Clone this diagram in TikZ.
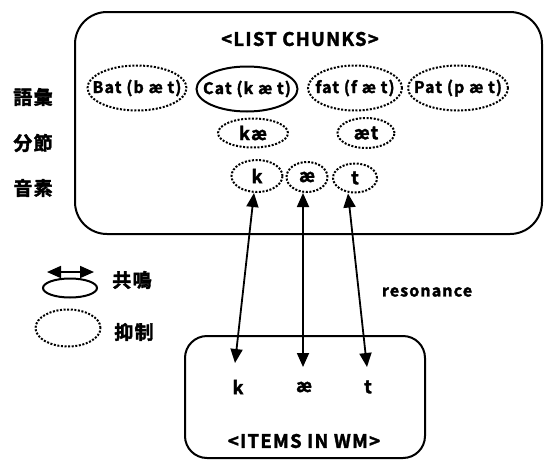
\documentclass[tikz,border=0pt]{standalone}
\usepackage{fontspec}
\setmainfont{Noto Sans CJK JP Bold}[LetterSpace=7, FakeBold=2]
\usetikzlibrary{arrows.meta,shapes.geometric}
\newcommand\fsz[1]{\fontsize{#1pt}{#1pt}\selectfont}
\begin{document}
\begin{tikzpicture}[x=1pt,y=-1pt,
  frame/.style={draw, line width=2pt},
  dotell/.style={draw, ellipse, inner sep=0pt, line width=2pt, dash pattern=on 2pt off 1.6pt},
  solell/.style={draw, ellipse, inner sep=0pt, line width=2pt},
  lab/.style={font=\fsz{16}},
  phon/.style={font=\fsz{18}},
  jp/.style={font=\fsz{19}},
  ttl/.style={font=\fsz{18.5}},
  res/.style={{Triangle[length=14pt,width=12pt]}-{Triangle[length=14pt,width=12pt]}, line width=1.8pt}
]
\useasboundingbox (0,0) rectangle (544,461);

% frames
\draw[frame, rounded corners=32pt] (75,12) rectangle (542,234);
\draw[frame, rounded corners=22pt] (185,336) rectangle (425,458);

\node[ttl] (title) at (300,39) {<LIST CHUNKS>};

% level labels
\node[jp] (lex) at (33,97) {語彙};
\node[jp] (syl) at (33,143) {分節};
\node[jp] (pho) at (33,188) {音素};

% lexical chunks
\node[dotell, minimum width=99pt, minimum height=45pt, label={[lab]center:Bat (b æ t)}] (bat) at (137,88) {};
\node[solell, minimum width=101pt, minimum height=45pt, label={[lab]center:Cat (k æ t)}] (cat) at (247,89) {};
\node[dotell, minimum width=94pt, minimum height=45pt, label={[lab]center:fat (f æ t)}] (fat) at (355,88) {};
\node[dotell, minimum width=100pt, minimum height=45pt, label={[lab]center:Pat (p æ t)}] (pat) at (458,88) {};

% syllable chunks
\node[dotell, minimum width=70pt, minimum height=29pt, label={[phon]center:kæ}] (ka) at (253,133) {};
\node[dotell, minimum width=57pt, minimum height=30pt, label={[phon]center:æt}] (at) at (366,133) {};

% phoneme chunks
\node[dotell, minimum width=51pt, minimum height=32pt, label={[phon]center:k}] (kp) at (257,176) {};
\node[dotell, minimum width=41pt, minimum height=30pt, label={[phon]center:æ}] (ap) at (307,177) {};
\node[dotell, minimum width=44pt, minimum height=29pt, label={[phon]center:t}] (tp) at (355,178) {};

% items in working memory
\node[phon] (wk) at (238,387) {k};
\node[phon] (wa) at (304,387) {æ};
\node[phon] (wt) at (368,387) {t};
\node[ttl] (items) at (304,441) {<ITEMS IN WM>};

\coordinate (kend) at (235,363);
\coordinate (aend) at (303,367);
\coordinate (tend) at (367,367);
\draw[res] ([xshift=-3pt]kp.south) -- (kend);
\draw[res] ([xshift=-4pt]ap.south) -- (aend);
\draw[res] ([xshift=-7pt]tp.south) -- (tend);

\node[lab] (reson) at (427,292) {resonance};

% legend
\coordinate (la) at (47,272);
\coordinate (lb) at (94,272);
\draw[res] (la) -- (lb);
\node[solell, minimum width=54pt, minimum height=19pt] (lsol) at (70,288) {};
\node[jp] (lres) at (132,280) {共鳴};
\node[dotell, minimum width=65pt, minimum height=37pt] (ldot) at (68,328) {};
\node[jp] (linh) at (134,332) {抑制};
\end{tikzpicture}
\end{document}
